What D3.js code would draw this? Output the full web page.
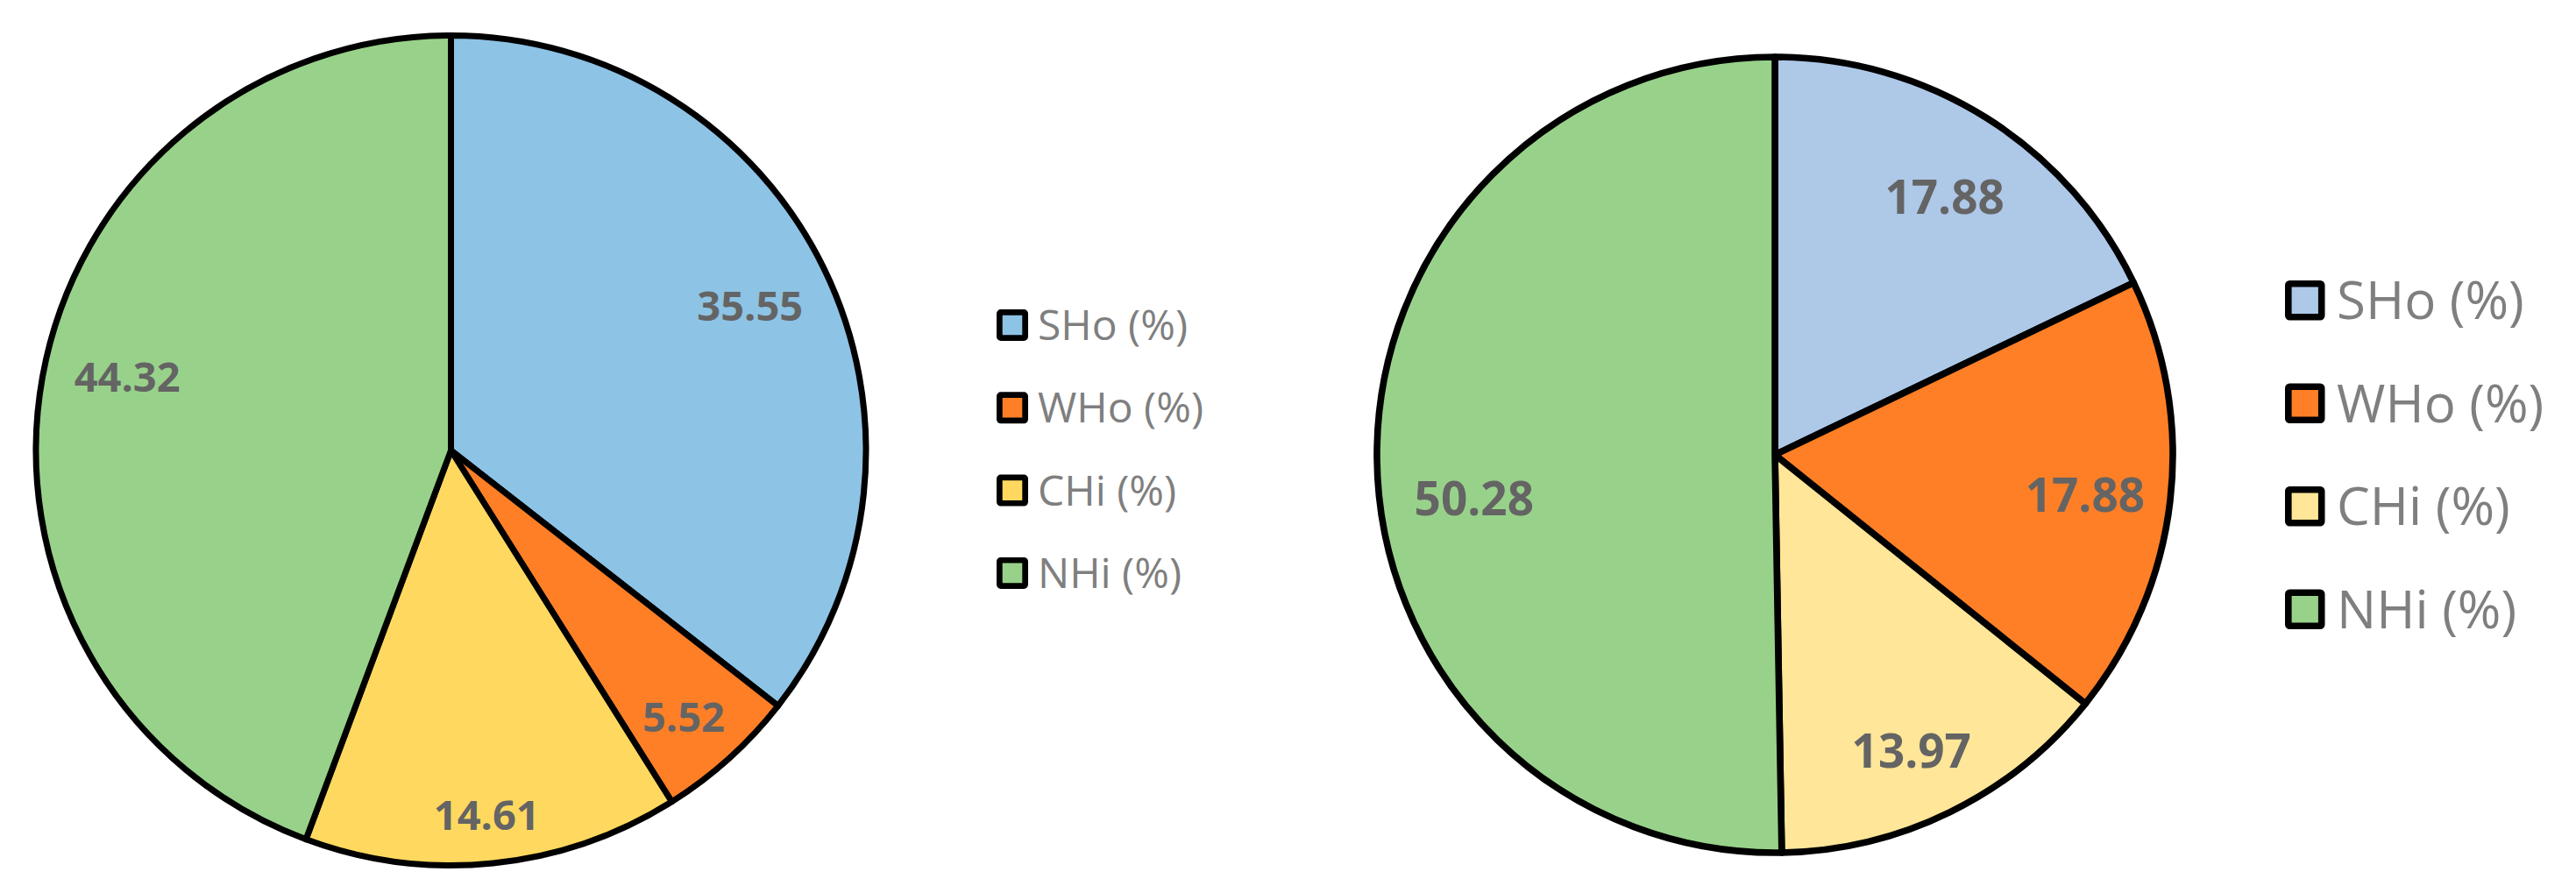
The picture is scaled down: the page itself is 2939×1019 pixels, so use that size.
<!DOCTYPE html>
<html>
<head>
<meta charset="utf-8">
<script src="https://cdn.jsdelivr.net/npm/d3@7"></script>
<style>
  html, body { margin: 0; padding: 0; background: #ffffff; }
  svg { display: block; }
</style>
</head>
<body>
<svg id="chart" width="2939" height="1019"></svg>
<script>
// ---- data ----
const categories = ["SHo (%)", "WHo (%)", "CHi (%)", "NHi (%)"];
const leftValues = [35.55, 5.52, 14.61, 44.32];
const rightValues = [17.88, 17.88, 13.97, 50.28];
const leftColors = ["#8DC3E5", "#FE7F26", "#FFD95F", "#98D28A"];
const rightColors = ["#AEC8E8", "#FE7F26", "#FFE698", "#98D28A"];

// ---- layout (styles / positions, not data) ----
const panels = [
  { values: leftValues, colors: leftColors,
    cx: 514.5, cy: 514, r: 473.5, stroke: 7,
    labelFrac: [0.80, 0.853, 0.883, 0.80], labelShiftDeg: [0.3, 1.0, 0.25, 2.6], labelSize: 47,
    legX: 1137, legY: 353, legBox: 36, legStroke: 6.7, legGap: 94.3,
    legTextX: 1184, legFont: 48 },
  { values: rightValues, colors: rightColors,
    cx: 2025, cy: 519, r: 454, stroke: 7.6,
    labelFrac: [0.775, 0.786, 0.82, 0.764], labelShiftDeg: [1.2, 0.8, 1.4, -7.8], labelSize: 53,
    legX: 2607, legY: 320, legBox: 45.5, legStroke: 7.6, legGap: 117.5,
    legTextX: 2666, legFont: 60 }
];

const svg = d3.select("#chart");
const pie = d3.pie().sort(null).value(d => d);

panels.forEach(p => {
  const g = svg.append("g").attr("transform", `translate(${p.cx},${p.cy})`);
  const arcs = pie(p.values);
  const arc = d3.arc().innerRadius(0).outerRadius(p.r);

  g.selectAll("path.slice")
    .data(arcs)
    .join("path")
    .attr("class", "slice")
    .attr("d", arc)
    .attr("fill", (d, i) => p.colors[i])
    .attr("stroke", "#000")
    .attr("stroke-width", p.stroke)
    .attr("stroke-linejoin", "round");

  g.selectAll("text.val")
    .data(arcs)
    .join("text")
    .attr("class", "val")
    .attr("transform", (d, i) => {
      const rr = p.r * p.labelFrac[i];
      const shift = p.labelShiftDeg[i] * Math.PI / 180;
      const shifted = { startAngle: d.startAngle + shift, endAngle: d.endAngle + shift };
      const c = d3.arc().innerRadius(rr).outerRadius(rr).centroid(shifted);
      return `translate(${c[0]},${c[1]})`;
    })
    .attr("text-anchor", "middle")
    .attr("dy", "0.357em")
    .attr("font-family", "'Open Sans', sans-serif")
    .attr("font-weight", 700)
    .attr("font-size", p.labelSize)
    .attr("fill", "#646464")
    .text(d => d.data.toFixed(2));

  // legend
  const leg = svg.append("g");
  const items = leg.selectAll("g.item")
    .data(categories)
    .join("g")
    .attr("class", "item")
    .attr("transform", (d, i) => `translate(0,${p.legY + i * p.legGap})`);

  items.append("rect")
    .attr("x", p.legX + p.legStroke / 2)
    .attr("y", p.legStroke / 2)
    .attr("width", p.legBox - p.legStroke)
    .attr("height", p.legBox - p.legStroke)
    .attr("rx", 1.5)
    .attr("fill", (d, i) => p.colors[i])
    .attr("stroke", "#000")
    .attr("stroke-width", p.legStroke)
    .attr("stroke-linejoin", "round");

  items.append("text")
    .attr("x", p.legTextX)
    .attr("y", p.legBox / 2)
    .attr("dy", "0.357em")
    .attr("font-family", "'Open Sans', sans-serif")
    .attr("font-size", p.legFont)
    .attr("fill", "#7F7F7F")
    .text(d => d);
});
</script>
</body>
</html>
